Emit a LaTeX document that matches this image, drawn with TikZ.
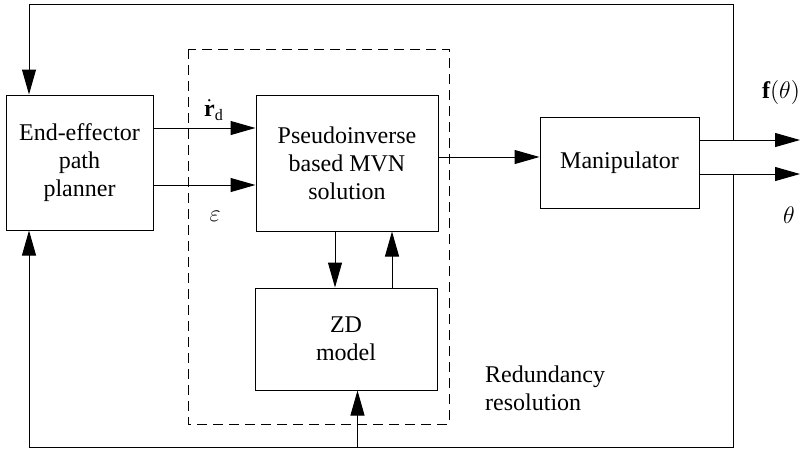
\documentclass[tikz,border=0pt]{standalone}
\usepackage{amsmath}
\usepackage{fontspec}
\setmainfont{Liberation Serif}
\usetikzlibrary{arrows.meta,positioning}

\begin{document}
\begin{tikzpicture}[x=0.5pt, y=-0.5pt, line width=0.5pt,
      font=\fontsize{12}{14}\selectfont,
      >={Triangle[length=12.5pt,width=7pt]},
      box/.style={draw, align=center, inner sep=2pt}]
    \useasboundingbox (0,0) rectangle (801,450);
    \node[box, minimum width=73.5pt, minimum height=67.5pt] (planner) at (79.5,162.5)
      {End-effector\\path\\planner};
    \node[box, minimum width=91pt, minimum height=68pt] (pinv) at (347,163)
      {Pseudoinverse\\based MVN\\solution};
    \node[box, minimum width=91pt, minimum height=51pt] (zd) at (346,339)
      {ZD\\model};
    \node[box, minimum width=79.5pt, minimum height=45.5pt] (manip) at (619.5,162.5)
      {Manipulator};
    \draw[dash pattern=on 5pt off 3pt] (188,49) rectangle (449,424);
    \node[align=left, anchor=west] (redund) at (478,388) {Redundancy\\resolution};
    \draw[->] ([yshift=17.25pt]planner.east) -- ([yshift=17.5pt]pinv.west);
    \node (rd) at (214,110) {$\dot{\mathbf{r}}_{\mathrm{d}}$};
    \draw[->] ([yshift=-11.25pt]planner.east) -- ([yshift=-11pt]pinv.west);
    \node (eps) at (215,216) {$\varepsilon$};
    \draw[->] ([yshift=3pt]pinv.east) -- ([yshift=2.75pt]manip.west);
    \draw[->] ([xshift=-6pt]pinv.south) -- ([xshift=-5.5pt]zd.north);
    \draw[->] ([xshift=23pt]zd.north) -- ([xshift=22.5pt]pinv.south);
    \coordinate (fout) at (800,140);
    \coordinate (thout) at (800,174);
    \coordinate (jt) at (733,140);
    \coordinate (jb) at (733,174);
    \coordinate (tl) at (29,4);
    \coordinate (bl) at (29,447);
    \coordinate (bz) at (357.5,447);
    \draw[->] ([yshift=11.25pt]manip.east) -- (fout);
    \draw[->] ([yshift=-5.75pt]manip.east) -- (thout);
    \node (f) at (781,92) {$\mathbf{f}(\theta)$};
    \node (th) at (789,215) {$\theta$};
    \draw[->] (jt) |- (tl) -- (tl |- planner.north);
    \draw[->] (jb) |- (bl) -- (bl |- planner.south);
    \draw[->] (bz) -- (bz |- zd.south);
  \end{tikzpicture}
\end{document}
